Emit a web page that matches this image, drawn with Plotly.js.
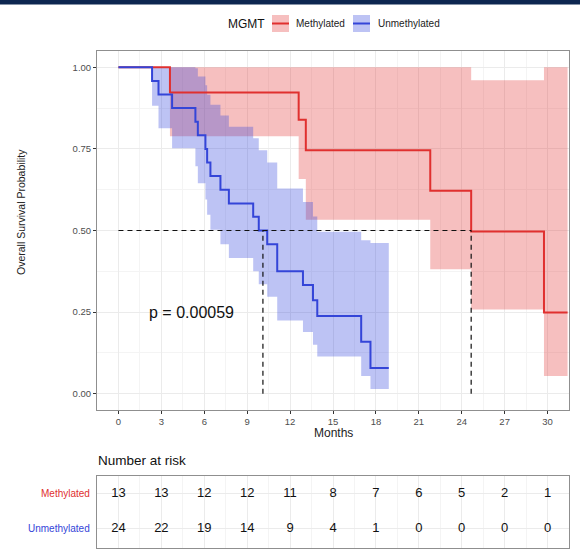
<!DOCTYPE html>
<html>
<head>
<meta charset="utf-8">
<script src="https://cdn.plot.ly/plotly-3.0.1.min.js"></script>
<style>
  html, body { margin: 0; padding: 0; background: #ffffff; }
  #chart { width: 580px; height: 553px; }
</style>
</head>
<body>
<div id="chart"></div>
<script>
// Kaplan-Meier overall survival by MGMT promoter status, with 95% bands and risk table

// Methylated group: step times (months), survival and 95% confidence limits
const methTime  = [0, 3.6, 12.6, 13.1, 21.8, 24.66, 29.75, 31.4];
const methSurv  = [1, 0.923, 0.839, 0.746, 0.622, 0.497, 0.249, 0.249];
const methUpper = [1, 1, 1, 1, 1, 0.960, 1, 1];
const methLower = [1, 0.789, 0.658, 0.533, 0.381, 0.258, 0.054, 0.054];

// Unmethylated group
const unmethTime  = [0, 2.35, 2.8, 3.75, 5.38, 5.55, 6.08, 6.2, 6.43, 7.13, 7.72, 9.42, 9.81, 10.4, 11.1, 12.9, 13.6, 13.9, 16.97, 17.62, 18.9];
const unmethSurv  = [1, 0.958, 0.917, 0.875, 0.833, 0.792, 0.750, 0.708, 0.667, 0.625, 0.583, 0.542, 0.500, 0.458, 0.375, 0.333, 0.286, 0.238, 0.159, 0.079, 0.079];
const unmethUpper = [1, 1, 1, 1, 0.997, 0.972, 0.945, 0.916, 0.885, 0.852, 0.818, 0.783, 0.746, 0.708, 0.629, 0.587, 0.543, 0.496, 0.470, 0.462, 0.462];
const unmethLower = [1, 0.882, 0.813, 0.752, 0.697, 0.645, 0.595, 0.548, 0.502, 0.458, 0.416, 0.375, 0.335, 0.297, 0.224, 0.189, 0.150, 0.114, 0.054, 0.014, 0.014];

// Median survival times (months)
const methMedian = 24.66;
const unmethMedian = 10.1;
const pValueText = "p = 0.00059";

// Number at risk
const riskTimes  = [0, 3, 6, 9, 12, 15, 18, 21, 24, 27, 30];
const riskMeth   = [13, 13, 12, 12, 11, 8, 7, 6, 5, 2, 1];
const riskUnmeth = [24, 22, 19, 14, 9, 4, 1, 0, 0, 0, 0];
const groupNames = ["Methylated", "Unmethylated"];

const xTicks = [0, 3, 6, 9, 12, 15, 18, 21, 24, 27, 30];
const yTicks = [0, 0.25, 0.5, 0.75, 1];
const yTickText = ["0.00", "0.25", "0.50", "0.75", "1.00"];

// ---- styling ----
const FONT = "Liberation Sans, Arial, Helvetica, sans-serif";
const RED = "#e0302f";
const BLUE = "#3445d8";
const RED_FILL = "rgba(226,43,43,0.30)";
const BLUE_FILL = "rgba(51,68,221,0.32)";
const GRID = "#ebebeb";
const MINOR = "#f4f4f4";
const BORDER = "#8f8f8f";

const W = 580, H = 553;
const M = { l: 97, r: 11, t: 51, b: 5 };
const plotW = W - M.l - M.r, plotH = H - M.t - M.b;
// pixel -> paper helpers for layout furniture
const px = v => (v - M.l) / plotW;
const py = v => (H - M.b - v) / plotH;

const minorX = [];
for (let v = 1.5; v < 31; v += 3) minorX.push(v);
const minorY = [0.125, 0.375, 0.625, 0.875];

function band(t, lo, hi, fill) {
  return [
    { x: t, y: lo, type: "scatter", mode: "lines", line: { width: 0, shape: "hv" },
      hoverinfo: "skip", showlegend: false, xaxis: "x", yaxis: "y" },
    { x: t, y: hi, type: "scatter", mode: "lines", line: { width: 0, shape: "hv" },
      fill: "tonexty", fillcolor: fill, hoverinfo: "skip", showlegend: false, xaxis: "x", yaxis: "y" }
  ];
}

const traces = [
  ...band(methTime, methLower, methUpper, RED_FILL),
  ...band(unmethTime, unmethLower, unmethUpper, BLUE_FILL),
  { x: methTime, y: methSurv, type: "scatter", mode: "lines",
    line: { color: RED, width: 2, shape: "hv" }, name: groupNames[0], xaxis: "x", yaxis: "y" },
  { x: unmethTime, y: unmethSurv, type: "scatter", mode: "lines",
    line: { color: BLUE, width: 2, shape: "hv" }, name: groupNames[1], xaxis: "x", yaxis: "y" },
  // median reference lines
  { x: [0, Math.max(methMedian, unmethMedian)], y: [0.5, 0.5], type: "scatter", mode: "lines",
    line: { color: "#111", width: 1.2, dash: "5px,4px" }, hoverinfo: "skip", xaxis: "x", yaxis: "y" },
  { x: [unmethMedian, unmethMedian, null, methMedian, methMedian], y: [0, 0.5, null, 0, 0.5],
    type: "scatter", mode: "lines", line: { color: "#111", width: 1.2, dash: "5px,4px" },
    hoverinfo: "skip", xaxis: "x", yaxis: "y" },
  // risk table
  { x: riskTimes, y: riskTimes.map(() => 2), text: riskMeth.map(String), type: "scatter", mode: "text",
    textfont: { family: FONT, size: 13, color: "#111" }, textposition: "middle center",
    cliponaxis: false, hoverinfo: "skip", xaxis: "x2", yaxis: "y2" },
  { x: riskTimes, y: riskTimes.map(() => 1), text: riskUnmeth.map(String), type: "scatter", mode: "text",
    textfont: { family: FONT, size: 13, color: "#111" }, textposition: "middle center",
    cliponaxis: false, hoverinfo: "skip", xaxis: "x2", yaxis: "y2" }
];

const axisCommon = {
  showline: true, mirror: true, linecolor: BORDER, linewidth: 1,
  showgrid: true, gridcolor: GRID, gridwidth: 1, zeroline: false, fixedrange: true
};

const layout = {
  width: W, height: H, margin: M,
  paper_bgcolor: "#ffffff", plot_bgcolor: "#ffffff",
  showlegend: false,
  font: { family: FONT, color: "#222" },
  xaxis: Object.assign({}, axisCommon, {
    domain: [0, 1], anchor: "y", range: [-1.5, 31.5],
    tickmode: "array", tickvals: xTicks, ticktext: xTicks.map(String),
    ticks: "outside", ticklen: 3, tickcolor: "#333", tickwidth: 1,
    tickfont: { family: FONT, size: 9.5, color: "#4d4d4d" },
    minor: { tickmode: "array", tickvals: minorX, showgrid: true, gridcolor: MINOR, ticks: "" }
  }),
  yaxis: Object.assign({}, axisCommon, {
    domain: [py(410), 1], anchor: "x", range: [-0.05, 1.05],
    tickmode: "array", tickvals: yTicks, ticktext: yTickText,
    ticks: "outside", ticklen: 3, tickcolor: "#333", tickwidth: 1,
    tickfont: { family: FONT, size: 9.5, color: "#4d4d4d" },
    minor: { tickmode: "array", tickvals: minorY, showgrid: true, gridcolor: MINOR, ticks: "" }
  }),
  xaxis2: Object.assign({}, axisCommon, {
    domain: [0, 1], anchor: "y2", range: [-1.5, 31.5],
    tickmode: "array", tickvals: xTicks, showticklabels: false, ticks: "",
    minor: { tickmode: "array", tickvals: minorX, showgrid: true, gridcolor: MINOR, ticks: "" }
  }),
  yaxis2: Object.assign({}, axisCommon, {
    domain: [0, py(476)], anchor: "x2", range: [0.45, 2.5],
    tickmode: "array", tickvals: [1, 2], showticklabels: false, ticks: ""
  }),
  shapes: [
    // dark banner strip along the top edge
    { type: "rect", xref: "paper", yref: "paper", x0: px(0), x1: px(W), y0: py(0), y1: py(4.5),
      fillcolor: "#0d2650", line: { width: 0 }, layer: "above" },
    // legend keys
    { type: "rect", xref: "paper", yref: "paper", x0: px(272), x1: px(289), y0: py(32), y1: py(15),
      fillcolor: RED_FILL, line: { width: 0 } },
    { type: "line", xref: "paper", yref: "paper", x0: px(272), x1: px(289), y0: py(23.5), y1: py(23.5),
      line: { color: RED, width: 2 } },
    { type: "rect", xref: "paper", yref: "paper", x0: px(353), x1: px(370), y0: py(32), y1: py(15),
      fillcolor: BLUE_FILL, line: { width: 0 } },
    { type: "line", xref: "paper", yref: "paper", x0: px(353), x1: px(370), y0: py(23.5), y1: py(23.5),
      line: { color: BLUE, width: 2 } }
  ],
  annotations: [
    { text: pValueText, xref: "x", yref: "y", x: 2.0, y: 0.25, xanchor: "left", yanchor: "middle",
      showarrow: false, font: { family: FONT, size: 16, color: "#111" } },
    { text: "Overall Survival Probability", xref: "paper", yref: "paper", x: px(21), y: py(212),
      textangle: -90, xanchor: "center", yanchor: "middle", showarrow: false,
      font: { family: FONT, size: 10.5, color: "#222" } },
    { text: "Months", xref: "paper", yref: "paper", x: px(333), y: py(433),
      xanchor: "center", yanchor: "middle", showarrow: false,
      font: { family: FONT, size: 12, color: "#222" } },
    { text: "Number at risk", xref: "paper", yref: "paper", x: px(96), y: py(460),
      xanchor: "left", yanchor: "middle", showarrow: false,
      font: { family: FONT, size: 13.5, color: "#111" } },
    { text: groupNames[0], xref: "paper", yref: "y2", x: px(92), y: 2,
      xanchor: "right", yanchor: "middle", showarrow: false,
      font: { family: FONT, size: 10, color: RED } },
    { text: groupNames[1], xref: "paper", yref: "y2", x: px(92), y: 1,
      xanchor: "right", yanchor: "middle", showarrow: false,
      font: { family: FONT, size: 10, color: BLUE } },
    // legend
    { text: "MGMT", xref: "paper", yref: "paper", x: px(226), y: py(24),
      xanchor: "left", yanchor: "middle", showarrow: false,
      font: { family: FONT, size: 12, color: "#111" } },
    { text: groupNames[0], xref: "paper", yref: "paper", x: px(294), y: py(24),
      xanchor: "left", yanchor: "middle", showarrow: false,
      font: { family: FONT, size: 10, color: "#222" } },
    { text: groupNames[1], xref: "paper", yref: "paper", x: px(376), y: py(24),
      xanchor: "left", yanchor: "middle", showarrow: false,
      font: { family: FONT, size: 10, color: "#222" } }
  ]
};

Plotly.newPlot("chart", traces, layout, { staticPlot: true, displayModeBar: false });
</script>
</body>
</html>
